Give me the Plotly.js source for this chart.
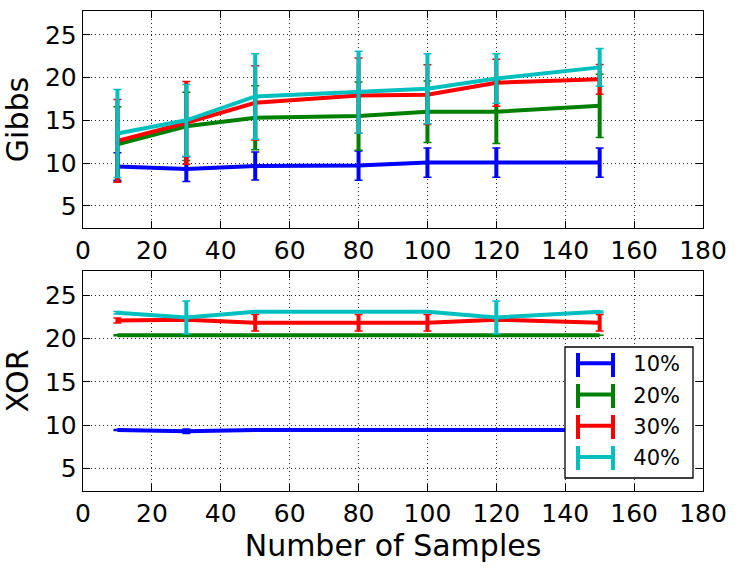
<!DOCTYPE html>
<html><head><meta charset="utf-8">
<script src="https://cdn.plot.ly/plotly-3.0.1.min.js"></script>
<style>html,body{margin:0;padding:0;background:#fff}#plot{width:737px;height:569px}</style>
</head><body><div id="plot"></div>
<script>
var samples = [10, 30, 50, 80, 100, 120, 150];
var seriesNames = ['10%', '20%', '30%', '40%'];
var colors = ['#0000ff', '#008000', '#ff0000', '#00bfbf'];

var gibbs10 = [9.6, 9.3, 9.65, 9.7, 10.05, 10.05, 10.05];
var gibbs10Err = [1.6, 1.45, 1.63, 1.7, 1.7, 1.7, 1.7];
var gibbs20 = [12.2, 14.3, 15.3, 15.5, 16.0, 16.0, 16.7];
var gibbs20Err = [4.4, 4.0, 3.75, 4.0, 3.6, 3.7, 3.7];
var gibbs30 = [12.6, 14.7, 17.05, 17.9, 18.0, 19.4, 19.8];
var gibbs30Err = [4.85, 4.85, 4.35, 4.4, 3.5, 2.75, 1.75];
var gibbs40 = [13.45, 15.0, 17.8, 18.3, 18.7, 19.9, 21.2];
var gibbs40Err = [5.15, 4.2, 5.0, 4.8, 4.1, 2.9, 2.2];

var xor10 = [9.45, 9.3, 9.45, 9.45, 9.45, 9.45, 9.45];
var xor10Err = [0.05, 0.25, 0, 0, 0, 0, 0];
var xor20 = [20.4, 20.4, 20.4, 20.4, 20.4, 20.4, 20.4];
var xor20Err = [0.05, 0, 0, 0, 0, 0, 0];
var xor30 = [22.1, 22.2, 21.85, 21.85, 21.85, 22.2, 21.85];
var xor30Err = [0.3, 0.1, 0.95, 0.95, 0.95, 0.1, 0.95];
var xor40 = [23.0, 22.45, 23.1, 23.1, 23.1, 22.45, 23.1];
var xor40Err = [0.15, 1.9, 0, 0, 0, 1.9, 0.1];

var xTicks = [0, 20, 40, 60, 80, 100, 120, 140, 160, 180];
var yTicks = [5, 10, 15, 20, 25];

var gibbs = [[gibbs10, gibbs10Err], [gibbs20, gibbs20Err], [gibbs30, gibbs30Err], [gibbs40, gibbs40Err]];
var xor = [[xor10, xor10Err], [xor20, xor20Err], [xor30, xor30Err], [xor40, xor40Err]];

var PAD = '\u00a0\u00a0';
var traces = [];
function addSeries(s, i, xax, yax, legend) {
  traces.push({
    x: samples, y: s[0], type: 'scatter', mode: 'lines', name: PAD + seriesNames[i],
    xaxis: xax, yaxis: yax, showlegend: legend, legendgroup: 'g' + i,
    line: {color: colors[i], width: 4},
    error_y: {type: 'data', array: s[1], visible: true, color: colors[i], thickness: 4, width: 0}
  });
  traces.push({
    x: samples, y: s[0], type: 'scatter', mode: 'lines', name: seriesNames[i],
    xaxis: xax, yaxis: yax, showlegend: false, hoverinfo: 'skip',
    line: {color: 'rgba(0,0,0,0)', width: 0},
    error_y: {type: 'data', array: s[1], visible: true, color: colors[i], thickness: 1.5, width: 4}
  });
}
gibbs.forEach(function (s, i) { addSeries(s, i, 'x', 'y', false); });
xor.forEach(function (s, i) { addSeries(s, i, 'x2', 'y2', true); });

// legend frame and cap decorations (pixel -> paper of plot area 83..703 x 11..491)
function px2x(px) { return (px - 83) / 620; }
function py2y(py) { return (491 - py) / 480; }
var shapes = [{
  type: 'rect', xref: 'paper', yref: 'paper',
  x0: px2x(565), x1: px2x(693), y0: py2y(347), y1: py2y(478),
  fillcolor: '#fff', line: {color: '#000', width: 1.3}, layer: 'above'
}];
var capX = [578, 613];
var capY0 = 365, capStep = 31, capH = 24;
colors.forEach(function (c, i) {
  var cy = capY0 + i * capStep;
  capX.forEach(function (px) {
    shapes.push({
      type: 'line', xref: 'paper', yref: 'paper',
      x0: px2x(px), x1: px2x(px),
      y0: py2y(cy - capH / 2), y1: py2y(cy + capH / 2),
      line: {color: c, width: 4}, layer: 'above'
    });
  });
});

var FF = 'DejaVu Sans, sans-serif';
function xa(anchor, title) {
  var a = {
    anchor: anchor, range: [0, 180], tickvals: xTicks, ticktext: xTicks.map(String),
    ticks: 'inside', ticklen: 7, tickwidth: 1, tickcolor: '#000', mirror: 'allticks',
    showline: true, linecolor: '#000', linewidth: 1.3,
    showgrid: true, gridcolor: '#222', griddash: '1px,3px', gridwidth: 1,
    zeroline: false, tickfont: {family: FF, size: 25, color: '#000'}
  };
  if (title) a.title = {text: title, font: {family: FF, size: 30, color: '#000'}, standoff: 4};
  return a;
}
function ya(anchor, domain, title) {
  return {
    anchor: anchor, domain: domain, range: [2.4, 27.8], tickvals: yTicks, ticktext: yTicks.map(String),
    ticks: 'inside', ticklen: 7, tickwidth: 1, tickcolor: '#000', mirror: 'allticks',
    showline: true, linecolor: '#000', linewidth: 1.3,
    showgrid: true, gridcolor: '#222', griddash: '1px,3px', gridwidth: 1,
    zeroline: false, tickfont: {family: FF, size: 25, color: '#000'},
    title: {text: title, font: {family: FF, size: 30, color: '#000'}, standoff: 8}
  };
}

var layout = {
  width: 737, height: 569,
  margin: {l: 83, r: 34, t: 11, b: 78},
  paper_bgcolor: '#fff', plot_bgcolor: '#fff',
  font: {family: FF, size: 20, color: '#000'},
  showlegend: true,
  xaxis: xa('y', null),
  yaxis: ya('x', [0.548, 1], 'Gibbs'),
  xaxis2: xa('y2', 'Number of Samples'),
  yaxis2: ya('x2', [0, 0.458], 'XOR'),
  shapes: shapes,
  legend: {
    x: px2x(573), y: py2y(343), xanchor: 'left', yanchor: 'top',
    bgcolor: 'rgba(255,255,255,0)', borderwidth: 0,
    font: {family: FF, size: 21, color: '#000'},
    traceorder: 'grouped', tracegroupgap: 1, itemwidth: 37
  }
};

Plotly.newPlot('plot', traces, layout, {displayModeBar: false, staticPlot: true});
</script>
</body></html>
